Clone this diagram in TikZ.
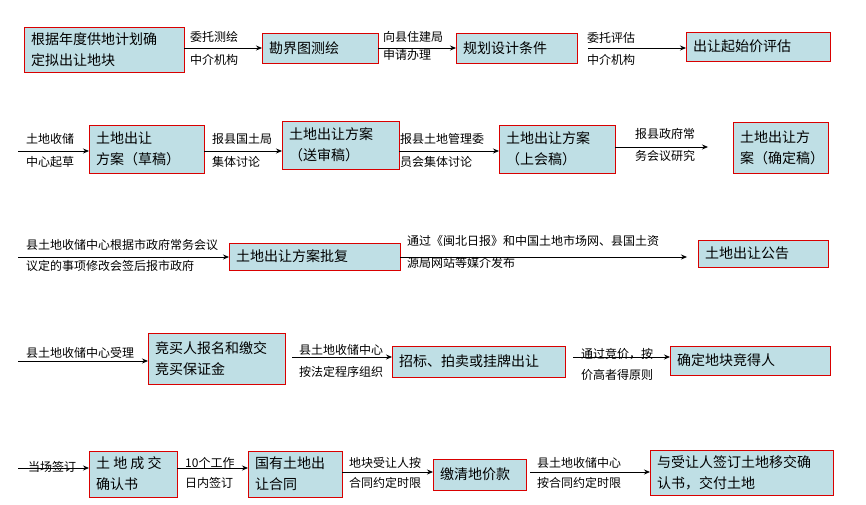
\documentclass[tikz,border=0pt]{standalone}
\usepackage{fontspec}
\newfontfamily\cjk{Noto Sans CJK SC}
\usetikzlibrary{arrows.meta}
\begin{document}
\begin{tikzpicture}[x=1pt,y=-1pt,
  bx/.style={draw=red!85!black,line width=0.8pt,fill=boxc,inner sep=0pt},
  bt/.style={font=\cjk\fontsize{14}{21}\selectfont,align=left,anchor=west,inner sep=0pt},
  lb/.style={font=\cjk\fontsize{12}{14}\selectfont,align=left,anchor=west,inner sep=0pt},
  ar/.style={-{Stealth[length=6pt,width=5pt]},line width=0.8pt}]
\definecolor{boxc}{RGB}{191,223,229}
\useasboundingbox (0,0) rectangle (866,505);
\newcommand\bx[6]{\path[bx] (#2,#3) rectangle (#4,#5); \coordinate (#1w) at (#2,{(#3+#5)/2}); \coordinate (#1e) at (#4,{(#3+#5)/2}); \node[bt] (#1t) at (#2+7,{(#3+#5)/2}) {#6};}
% row 1
\bx{a}{24}{27}{184}{72}{根据年度供地计划确\\定拟出让地块}
\bx{b}{262}{33}{378}{63}{勘界图测绘}
\bx{c}{456}{33}{577}{63}{规划设计条件}
\bx{d}{686}{32}{830}{61}{出让起始价评估}
\draw[ar] (ae|-bw) -- (bw);
\draw[ar] (be) -- (cw);
\coordinate (d0) at (588,48);
\draw[ar] (d0) -- (dw|-d0);
\node[lb] (l1) at (190,37) {委托测绘}; \node[lb] (l2) at (190,60) {中介机构};
\node[lb] (l3) at (383,37) {向县住建局}; \node[lb] (l4) at (383,55) {申请办理};
\node[lb] (l5) at (587,38) {委托评估}; \node[lb] (l6) at (587,60) {中介机构};
% row 2
\coordinate (s2) at (18,151);
\bx{e}{89}{125}{204}{173}{土地出让\\方案（草稿）}
\bx{f}{282}{121}{399}{169}{土地出让方案\\（送审稿）}
\bx{g}{499}{125}{615}{173}{土地出让方案\\（上会稿）}
\bx{h}{733}{122}{828}{173}{土地出让方\\案（确定稿）}
\coordinate (g1) at (708,147);
\draw[ar] (s2) -- (ew|-s2);
\draw[ar] (ee|-s2) -- (fw|-s2);
\draw[ar] (fe|-s2) -- (gw|-s2);
\draw[ar] (ge|-g1) -- (g1);
\node[lb] (l7) at (26,139) {土地收储}; \node[lb] (l8) at (26,162) {中心起草};
\node[lb] (l9) at (212,139) {报县国土局}; \node[lb] (l10) at (212,162) {集体讨论};
\node[lb] (l11) at (400,139) {报县土地管理委}; \node[lb] (l12) at (400,162) {员会集体讨论};
\node[lb] (l13) at (635,134) {报县政府常}; \node[lb] (l14) at (635,156) {务会议研究};
% row 3
\coordinate (s3) at (18,257);
\bx{i}{229}{243}{400}{270}{土地出让方案批复}
\bx{j}{698}{240}{828}{267}{土地出让公告}
\coordinate (j0) at (687,257);
\draw[ar] (s3) -- (iw|-s3);
\draw[ar] (ie|-j0) -- (j0);
\node[lb] (l15) at (26,245) {县土地收储中心根据市政府常务会议};
\node[lb] (l16) at (26,266) {议定的事项修改会签后报市政府};
\node[lb] (l17) at (407,241) {通过《闽北日报》和中国土地市场网、县国土资};
\node[lb] (l18) at (407,263) {源局网站等媒介发布};
% row 4
\coordinate (s4) at (18,361);
\bx{k}{148}{333}{285}{384}{竞买人报名和缴交\\竞买保证金}
\bx{m}{392}{346}{565}{377}{招标、拍卖或挂牌出让}
\bx{n}{670}{346}{830}{375}{确定地块竞得人}
\coordinate (k0) at (292,357);
\coordinate (m0) at (573,357);
\draw[ar] (s4) -- (kw|-s4);
\draw[ar] (k0) -- (mw|-k0);
\draw[ar] (m0) -- (nw|-m0);
\node[lb] (l19) at (26,353) {县土地收储中心受理};
\node[lb] (l20) at (299,350) {县土地收储中心};
\node[lb] (l21) at (299,372) {按法定程序组织};
\node[lb] (l22) at (581,354) {通过竞价，按};
\node[lb] (l23) at (581,375) {价高者得原则};
% row 5
\coordinate (s5) at (18,468);
\bx{o}{89}{451}{177}{497}{土 地 成 交\\确认书}
\bx{p}{248}{451}{342}{497}{国有土地出\\让合同}
\bx{q}{433}{459}{526}{490}{缴清地价款}
\bx{r}{650}{450}{833}{495}{与受让人签订土地移交确\\认书，交付土地}
\coordinate (q0) at (530,472);
\draw[ar] (s5) -- (ow|-s5);
\draw[ar] (oe|-s5) -- (pw|-s5);
\draw[ar] (pe|-q0) -- (qw|-q0);
\draw[ar] (q0) -- (rw|-q0);
\node[lb] (l24) at (28,467) {当场签订};
\node[lb] (l25) at (185,463) {10个工作};
\node[lb] (l26) at (185,483) {日内签订};
\node[lb] (l27) at (349,463) {地块受让人按};
\node[lb] (l28) at (349,483) {合同约定时限};
\node[lb] (l29) at (537,463) {县土地收储中心};
\node[lb] (l30) at (537,483) {按合同约定时限};
\end{tikzpicture}
\end{document}
